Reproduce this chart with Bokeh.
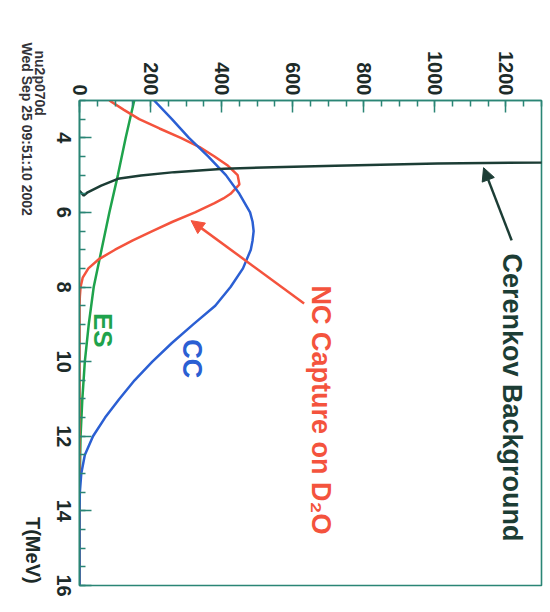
from bokeh.plotting import figure
from bokeh.models import Range1d, Label, Arrow, NormalHead, FixedTicker
from bokeh.embed import file_html
from bokeh.resources import INLINE

# Kinetic energy T (MeV) and expected events for each signal component
t_cc = [3.0, 3.5, 4.0, 4.5, 5.0, 5.5, 6.0, 6.25, 6.5, 6.75, 7.0, 7.5, 8.0, 8.5, 9.0,
        9.5, 10.0, 10.5, 11.0, 11.5, 12.0, 12.5, 13.0, 13.5, 14.0, 16.0]
cc = [210, 260, 308, 362, 412, 450, 480, 487, 490, 487, 482, 460, 425, 382, 320,
      260, 205, 155, 112, 72, 38, 15, 5, 1, 0, 0]

t_nc = [3.0, 3.25, 3.5, 3.75, 4.0, 4.25, 4.5, 4.75, 5.0, 5.25, 5.5, 5.625, 5.75,
        6.0, 6.25, 6.5, 6.75, 7.0, 7.25, 7.5, 7.75, 8.0, 8.25, 8.5, 16.0]
nc = [84, 125, 168, 225, 285, 338, 380, 418, 445, 450, 425, 405, 380,
      325, 262, 205, 150, 100, 55, 25, 9, 3, 1, 0, 0]

t_es = [3.0, 4.0, 5.0, 6.0, 7.0, 8.0, 9.0, 10.0, 11.0, 12.0, 13.0, 14.0, 16.0]
es = [154, 130, 108, 84, 62, 40, 26, 15, 8, 3, 1, 0, 0]

t_bkg = [5.42, 5.55, 5.46, 5.28, 5.10, 5.01, 4.92, 4.83, 4.79, 4.75, 4.69, 4.66, 4.64]
bkg = [0, 12, 23, 61, 108, 173, 267, 407, 545, 720, 1007, 1300, 1400]

t_ticks = [4, 6, 8, 10, 12, 14, 16]
t_minor = [3.0 + 0.5 * i for i in range(27)]
n_ticks = [0, 200, 400, 600, 800, 1000, 1200]
n_minor = [50 * i for i in range(27)]

frame_color = "#2a8575"
label_color = "#1d2b29"
bkg_color = "#1c3d35"
nc_color = "#f4533d"
cc_color = "#2b5fd3"
es_color = "#1fa34c"
stamp_color = "#333338"
edge = "#4f8fe8"
font = "Liberation Sans"

# Landscape plot on a square canvas; the page shows it turned a quarter
# turn clockwise, the lowest 62 px of the canvas falling off the page.
p = figure(width=612, height=612, output_backend="svg", toolbar_location=None,
           x_range=Range1d(3, 16), y_range=Range1d(0, 1300),
           min_border_left=100, min_border_right=27,
           min_border_top=8, min_border_bottom=142)
p.grid.visible = False
p.background_fill_color = "white"
p.border_fill_color = "white"
p.outline_line_color = frame_color
p.outline_line_width = 1.6

p.xaxis.ticker = FixedTicker(ticks=t_ticks, minor_ticks=t_minor)
p.yaxis.ticker = FixedTicker(ticks=n_ticks, minor_ticks=n_minor)
for ax in (p.xaxis[0], p.yaxis[0]):
    ax.axis_line_color = frame_color
    ax.axis_line_width = 1.6
    ax.major_tick_line_color = frame_color
    ax.minor_tick_line_color = frame_color
    ax.major_tick_line_width = 1.5
    ax.minor_tick_line_width = 1.5
    ax.major_tick_in = 12
    ax.major_tick_out = 0
    ax.minor_tick_in = 6
    ax.minor_tick_out = 0
    ax.major_label_text_font = font
    ax.major_label_text_font_size = "20px"
    ax.major_label_text_font_style = "bold"
    ax.major_label_text_color = label_color
p.xaxis.major_label_standoff = 9
p.yaxis.major_label_standoff = 5

# spectra
p.line(t_es, es, line_color=es_color, line_width=2.5)
p.line(t_nc, nc, line_color=nc_color, line_width=2.5)
p.line(t_cc, cc, line_color=cc_color, line_width=2.5)
p.line(t_bkg, bkg, line_color=bkg_color, line_width=2.5)


def make_label(x, y, text, color, size="27px", align="left"):
    return Label(x=x, y=y, text=text, text_color=color, text_font=font,
                 text_font_size=size, text_font_style="bold",
                 text_align=align, text_baseline="middle")


# curve annotations inside the frame
p.add_layout(make_label(7.10, 1216, "Cerenkov Background", bkg_color))
p.add_layout(make_label(7.96, 679, "NC Capture on D\u2082O", nc_color))
p.add_layout(make_label(9.92, 317, "CC", cc_color, align="center"))
p.add_layout(make_label(9.16, 67, "ES", es_color, size="26px", align="center"))

p.add_layout(Arrow(x_start=6.75, y_start=1216, x_end=4.80, y_end=1137,
                   line_color=bkg_color, line_width=2.5,
                   end=NormalHead(size=13, fill_color=bkg_color, line_color=bkg_color)))
p.add_layout(Arrow(x_start=8.44, y_start=632, x_end=6.22, y_end=314,
                   line_color=nc_color, line_width=2.5,
                   end=NormalHead(size=13, fill_color=nc_color, line_color=nc_color)))

# axis title and job stamp below the frame (kept in the lower border panel)
p.add_layout(make_label(15.95, -132, "T(MeV)", label_color, size="20px", align="right"), "below")
p.add_layout(make_label(1.66, -112, "nu2p070d", stamp_color, size="14px"), "below")
p.add_layout(make_label(1.445, -149, "Wed Sep 25 09:51:10 2002", stamp_color, size="14px"), "below")

# thin blue sheet edge: two padded, filled blank boxes in the border panels
def edge_strip(x, y, pad):
    return Label(x=x, y=y, text=" ", text_font_size="1px", text_alpha=0,
                 text_align="left", text_baseline="top",
                 background_fill_color=edge, border_line_color=None, padding=pad)

try:
    p.add_layout(edge_strip(0.668, -213.9, dict(left=0, right=600, top=0, bottom=1)), "below")
    p.add_layout(edge_strip(0.641, 1322.5, dict(left=0, right=2, top=0, bottom=547)), "left")
except ValueError:
    pass

# portrait page: turn the plot a quarter turn clockwise
p.styles = {
    "transform": "translate(550px, 0px) rotate(90deg)",
    "transform-origin": "0 0",
}

open("out.html", "w").write(file_html(p, INLINE))
